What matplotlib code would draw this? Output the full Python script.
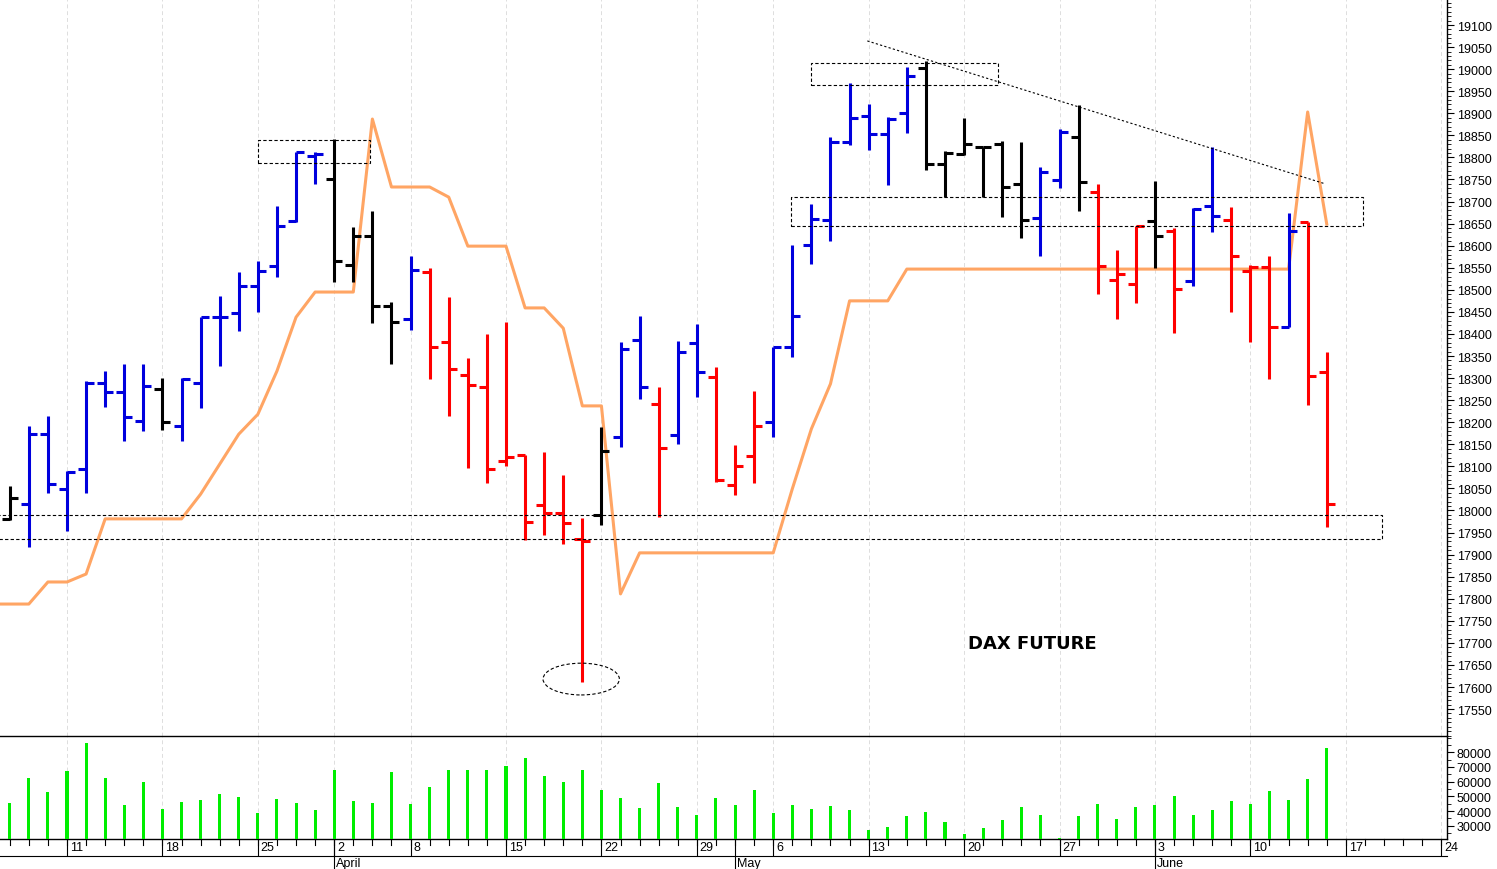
import matplotlib
matplotlib.use("Agg")
import matplotlib.pyplot as plt
from matplotlib.patches import Rectangle, Ellipse
from matplotlib.ticker import MultipleLocator
import numpy as np

plt.rcParams['font.family'] = ['Liberation Sans', 'DejaVu Sans']

opens = [17980,18015,18173,18049,18094,18290,18268,18203,18275,18191,18289,18438,18447,18508,18554,18656,18803,18750,18556,18622,
         18463,18434,18540,18382,18307,18280,18112,18126,18012,17994,17935,17990,18166,18386,18241,18171,18379,18302,18058,18123,
         18200,18370,18601,18658,18835,18894,18853,18901,19003,18785,18808,18823,18830,18740,18663,18749,18846,18722,18522,18513,
         18656,18633,18520,18690,18658,18543,18552,18416,18654,18314]
highs = [18055,18191,18214,18090,18293,18316,18332,18332,18300,18300,18438,18486,18540,18565,18690,18812,18812,18842,18642,18678,
         18472,18577,18549,18484,18345,18400,18427,18126,18132,18080,17983,18189,18382,18441,18280,18384,18422,18325,18148,18271,
         18370,18601,18694,18846,18969,18921,18892,19005,19018,18815,18889,18823,18837,18835,18778,18864,18919,18740,18590,18645,
         18747,18640,18685,18823,18687,18556,18577,18674,18654,18359]
lows = [17978,17917,18040,17953,18040,18234,18157,18180,18182,18157,18232,18327,18407,18450,18529,18653,18740,18518,18518,18425,
        18332,18409,18298,18214,18096,18062,18101,17933,17944,17924,17611,17967,18144,18253,17985,18150,18257,18064,18035,18062,
        18166,18348,18558,18611,18828,18817,18737,18855,18771,18710,18805,18710,18665,18617,18577,18731,18679,18490,18434,18470,
        18549,18402,18508,18631,18450,18382,18298,18416,18239,17962]
closes = [18028,18173,18060,18087,18290,18268,18212,18282,18200,18298,18438,18438,18508,18543,18645,18812,18807,18565,18622,18463,
          18427,18545,18370,18320,18284,18094,18121,17974,17994,17972,17931,18135,18366,18280,18141,18359,18314,18069,18101,18191,
          18370,18440,18660,18835,18889,18853,18887,18984,18785,18810,18830,18823,18733,18658,18767,18858,18744,18554,18536,18645,
          18622,18502,18683,18667,18577,18552,18416,18633,18305,18015]
bar_colors = list("kbbbbbbbkbbbbbbbbkkkkbrrrrrrrrrkbbrbbrrrbbbbbbbbkkkkkkbbkrrrkrbbrrrbrr")
stop_line = ([17788,17788,17838,17838,17856] + [17981]*5 +
             [18037,18105,18173,18218,18316,18438,18495,18495,18495,18887,18733,18733,18733,18710,18599,18599,18599,
              18459,18459,18413,18237,18237,17811] + [17904]*8 +
             [18049,18185,18287,18475,18475,18475] + [18547]*21 + [18903,18649])
volume = [45250,62280,52950,67040,86100,62280,44100,59550,41170,45940,47300,51590,49750,38650,48180,45250,40490,67930,46800,45250,
          66780,44780,56350,67930,67700,67700,70650,76100,63850,59550,67700,54300,48860,42100,59300,42750,37300,48660,44100,54300,
          38440,44300,41170,43200,40490,27280,29320,36600,39120,32520,24350,28640,33880,42530,37290,21400,36600,44570,34360,42530,
          44300,50230,37290,40490,47030,44780,53410,47710,61590,82990]
week_idx = [3, 8, 13, 17, 21, 26, 31, 36, 40, 45, 50, 55, 60, 65, 70, 75]
week_labels = ['11','18','25','2','8','15','22','29','6','13','20','27','3','10','17','24']
month_idx = [17, 38, 60]
month_labels = ['April', 'May', 'June']

# annotation shapes (index units, price units)
boxes = [(13.0, 18787, 5.9, 52), (42.0, 18964, 9.8, 50), (40.95, 18645, 29.95, 65), (-0.6, 17935, 72.5, 55)]
circle = (29.94, 17618, 4.0, 72)
trend = ([44.93, 68.93], [19064, 18740])

colmap = {'k': '#000000', 'b': '#0000dd', 'r': '#ff0000'}
W, H = 1497, 870
fig = plt.figure(figsize=(W/100, H/100), dpi=100)
axv = fig.add_axes([0, 1-840/H, 1447/W, 103/H])
axp = fig.add_axes([0, 1-737/H, 1447/W, 737/H])
axv.patch.set_visible(False)
axp.patch.set_visible(False)
xl = (-0.51, 75.3)
n = len(opens)
x = np.arange(n)
tk = 0.42
for i in range(n):
    c = colmap[bar_colors[i]]
    axp.plot([i, i], [lows[i], highs[i]], color=c, lw=2.2, solid_capstyle='butt', zorder=3)
    axp.plot([i-tk, i], [opens[i], opens[i]], color=c, lw=2.2, solid_capstyle='butt', zorder=3)
    axp.plot([i, i+tk], [closes[i], closes[i]], color=c, lw=2.2, solid_capstyle='butt', zorder=3)
axp.plot(np.r_[-0.6, x], np.r_[stop_line[0], stop_line], color='#ffa564', lw=2.2, zorder=2)
for (bx, by, bw, bh) in boxes:
    axp.add_patch(Rectangle((bx, by), bw, bh, fill=False, ls=(0, (3, 2)), lw=0.8, ec='black', zorder=4))
axp.add_patch(Ellipse((circle[0], circle[1]), circle[2], circle[3], fill=False, ls=(0, (3, 2)), lw=0.8, ec='black', zorder=4))
axp.plot(trend[0], trend[1], color='black', ls=(0, (2, 2)), lw=0.8, zorder=4)
axp.text(53.6, 17700, 'DAX FUTURE', fontsize=13, fontweight='bold', ha='center', va='center', family='DejaVu Sans')
axp.set_xlim(*xl)

axv.bar(x, volume, width=0.16, color='#00ee00', zorder=3)
axv.set_xlim(*xl)

for ax in (axp, axv):
    for s in ('left', 'top'):
        ax.spines[s].set_visible(False)
    ax.spines['right'].set_linewidth(1)
    ax.spines['bottom'].set_linewidth(1)
    ax.yaxis.tick_right()
    ax.set_xticks([])
    for wi in week_idx:
        ax.axvline(wi, color='#dddddd', ls=(0, (4, 3)), lw=0.7, zorder=0)
    ax.tick_params(axis='y', labelsize=9, length=5, width=0.8, pad=2)
    ax.tick_params(axis='y', which='minor', length=3, width=0.6)
axp.set_yticks(np.arange(17550, 19101, 50))
axp.yaxis.set_minor_locator(MultipleLocator(10))
axp.set_ylim(17489, 19159)
axv.set_yticks(np.arange(30000, 80001, 10000))
axv.yaxis.set_minor_locator(MultipleLocator(5000))
axv.set_ylim(20940, 91090)

# date axis below volume
tr = axv.get_xaxis_transform()
for d in range(0, 76):
    axv.plot([d]*2, [0, -0.06], transform=tr, color='black', lw=0.8, clip_on=False)
for wi, lab in zip(week_idx, week_labels):
    axv.plot([wi]*2, [0, -0.16], transform=tr, color='black', lw=0.8, clip_on=False)
    axv.text(wi + 0.15, -0.02, lab, transform=tr, fontsize=9, ha='left', va='top', clip_on=False)
axv.plot([-0.6, 75.3], [-0.165, -0.165], transform=tr, color='black', lw=0.8, clip_on=False)
for mi, lab in zip(month_idx, month_labels):
    axv.plot([mi]*2, [0, -0.33], transform=tr, color='black', lw=0.8, clip_on=False)
    axv.text(mi + 0.1, -0.17, lab, transform=tr, fontsize=9, ha='left', va='top', clip_on=False)

fig.savefig('out.png', dpi=100)
